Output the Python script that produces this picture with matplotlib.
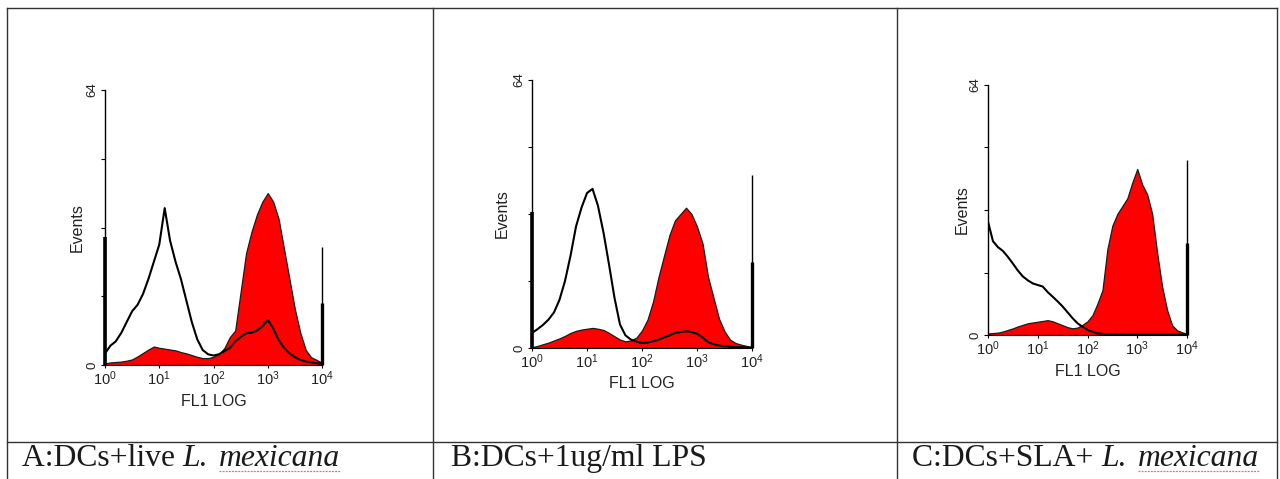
import matplotlib
matplotlib.use("Agg")
import matplotlib.pyplot as plt
from matplotlib.lines import Line2D

plt.rcParams['font.family'] = ['Liberation Sans', 'DejaVu Sans']
plt.rcParams['mathtext.fontset'] = 'custom'
plt.rcParams['mathtext.rm'] = 'Liberation Sans'
plt.rcParams['mathtext.it'] = 'Liberation Sans:italic'

# FL1 channel grid (0.1 decade steps from 10^0 to 10^4)
fl1 = [1.00, 1.26, 1.58, 2.00, 2.51, 3.16, 3.98, 5.01, 6.31, 7.94,
       10.0, 12.6, 15.8, 20.0, 25.1, 31.6, 39.8, 50.1, 63.1, 79.4,
       100, 126, 158, 200, 251, 316, 398, 501, 631, 794,
       1000, 1259, 1585, 1995, 2512, 3162, 3981, 5012, 6310, 7943, 10000]

# Panel A: DCs + live L. mexicana
a_black = [2.7, 4.5, 5.5, 7.5, 10, 12.5, 14, 16.5, 20, 24,
           28, 36.5, 29, 24, 20, 15, 10, 6, 3.5, 2.5,
           2.2, 2.5, 3.2, 4, 5.5, 6.5, 7.4, 7.5, 8, 9,
           10.5, 8.5, 5.8, 4, 2.7, 1.8, 1.2, 0.8, 0.6, 0.4, 0.3]
a_red = [0.4, 0.6, 0.7, 0.8, 1.0, 1.3, 2.0, 2.8, 3.6, 4.3,
         4.0, 3.8, 3.6, 3.4, 3.0, 2.7, 2.3, 1.9, 1.6, 1.6,
         1.9, 2.6, 3.9, 6.5, 8, 17, 26, 31, 35, 38,
         40, 38, 34, 27, 20, 13, 7.5, 3.5, 1.8, 1.2, 0.5]
a_first = 29.8
a_last = [27.5, 14.4]

# Panel B: DCs + 1ug/ml LPS
b_black = [3.6, 4.5, 5.5, 6.8, 8.5, 11.5, 16, 22, 29, 33.5,
           37, 38, 34, 27.5, 20, 12, 5.6, 3, 2, 1.5,
           1.2, 1.3, 1.6, 2, 2.5, 3, 3.6, 3.8, 4, 3.8,
           3.4, 2.5, 1.4, 0.9, 0.6, 0.4, 0.3, 0.2, 0.2, 0.1, 0.1]
b_red = [0.2, 0.5, 0.9, 1.3, 1.8, 2.3, 2.9, 3.6, 4.1, 4.4,
         4.6, 4.8, 4.6, 4.3, 3.6, 2.8, 2.0, 1.6, 1.8, 2.5,
         4.2, 6.8, 11, 17, 22, 27, 30.5, 32, 33.5, 32,
         29, 25, 17, 12, 7, 4, 2, 1.2, 0.8, 0.5, 0.2]
b_first = 32.5
b_last = [41.3, 20.5]

# Panel C: DCs + SLA + L. mexicana
c_black = [29, 24, 22.5, 21.5, 20, 18.3, 16.5, 15, 14, 13.2,
           12.8, 12.4, 11, 9.8, 8.6, 7.3, 5.8, 4.3, 3, 2.1,
           1.3, 0.8, 0.4, 0.3, 0.2, 0.2, 0.2, 0.1, 0.1, 0.1,
           0.1, 0.1, 0.1, 0.1, 0.1, 0.1, 0.1, 0.1, 0.1, 0.1, 0.1]
c_red = [0.4, 0.5, 0.6, 0.9, 1.3, 1.7, 2.2, 2.6, 3.0, 3.2,
         3.4, 3.6, 3.8, 3.5, 3.0, 2.5, 2.0, 1.7, 1.9, 2.6,
         3.5, 5.1, 8, 11.5, 22, 28, 31, 33, 35, 39,
         42.5, 38.5, 36, 31, 21, 12.4, 6.4, 2.5, 1.2, 0.7, 0.3]
c_first = 0.0
c_last = [44.8, 23.5]

xticks = [1, 10, 100, 1000, 10000]
xticklabels = [r'$10^{0}$', r'$10^{1}$', r'$10^{2}$', r'$10^{3}$', r'$10^{4}$']
yticks = [0, 16, 32, 48, 64]
yticklabels = ['0', '', '', '', '64']

cap_roman = ['A:DCs+live ', 'B:DCs+1ug/ml LPS', 'C:DCs+SLA+ ']
cap_italic = ['L.', '', 'L.']
cap_italic2 = ['mexicana', '', 'mexicana']

W, H = 1280, 479
fig = plt.figure(figsize=(12.8, 4.79), dpi=100)

# axes boxes in pixels: (left, right, bottom_y, top_y)
boxes = [(105, 322, 365, 90), (532, 752, 348, 80), (988, 1187, 335, 85)]
panels = [(a_black, a_red, a_first, a_last),
          (b_black, b_red, b_first, b_last),
          (c_black, c_red, c_first, c_last)]
ev_off = [-28, -30, -26]

for (l, r, b, t), (blk, red, first, last), evo in zip(boxes, panels, ev_off):
    ax = fig.add_axes([l / W, 1 - b / H, (r - l) / W, (b - t) / H])
    ax.set_xscale('log')
    ax.fill_between(fl1, red, 0, facecolor='#ff0000', edgecolor='#1a1a1a', lw=0.9, zorder=2)
    ax.plot(fl1, blk, color='black', lw=1.5, zorder=3)
    if first > 0:
        ax.vlines(1, 0, first, color='black', lw=2.6, zorder=4, clip_on=False)
    ax.vlines(10000, 0, last[0], color='black', lw=1.0, zorder=4, clip_on=False)
    ax.vlines(10000, 0, last[1], color='black', lw=2.4, zorder=4, clip_on=False)
    ax.set_xlim(1, 10000)
    ax.set_ylim(0, 64)
    for s in ['top', 'right']:
        ax.spines[s].set_visible(False)
    ax.spines['left'].set_linewidth(1.0)
    ax.spines['bottom'].set_linewidth(0.8)
    ax.set_xticks(xticks)
    ax.set_xticklabels(xticklabels, fontsize=10.5, color='#222222')
    ax.minorticks_off()
    ax.set_yticks(yticks)
    ax.set_yticklabels(yticklabels, rotation=90, va='center', fontsize=9.5, color='#222222')
    ax.tick_params(axis='x', direction='out', length=2, pad=1)
    ax.tick_params(axis='y', direction='out', length=3, pad=2)
    ax.set_facecolor('none')
    ax.annotate('Events', xy=(0, 0.5), xycoords='axes fraction', xytext=(evo, 0),
                textcoords='offset pixels', rotation=90, ha='center', va='center',
                fontsize=11.5, color='#222222')
    ax.annotate('FL1 LOG', xy=(0.5, 0), xycoords='axes fraction', xytext=(0, -36),
                textcoords='offset pixels', ha='center', va='center',
                fontsize=11.5, color='#222222')

# table grid
lc = '#333333'
def hline(y, x0=7, x1=1277):
    fig.add_artist(Line2D([x0 / W, x1 / W], [1 - y / H, 1 - y / H], color=lc, lw=1.0))
def vline(x, y0=8, y1=479):
    fig.add_artist(Line2D([x / W, x / W], [1 - y0 / H, 1 - y1 / H], color=lc, lw=1.0))
hline(8)
hline(442)
for x in [7, 433, 897, 1277]:
    vline(x)

# captions
renderer = fig.canvas.get_renderer()
cap_x = [22, 451, 912]
base_y = 1 - 466 / H
fs = 22.8
for cx, rom, it1, it2 in zip(cap_x, cap_roman, cap_italic, cap_italic2):
    t1 = fig.text(cx / W, base_y, rom, fontsize=fs, family='Liberation Serif',
                  color='#1a1a1a', va='baseline')
    if it1:
        bb = t1.get_window_extent(renderer)
        t2 = fig.text(bb.x1 / W, base_y, it1 + ' ', fontsize=fs, family='Liberation Serif',
                      style='italic', color='#1a1a1a', va='baseline')
        bb2 = t2.get_window_extent(renderer)
        t3 = fig.text(bb2.x1 / W + 3 / W, base_y, it2, fontsize=fs, family='Liberation Serif',
                      style='italic', color='#1a1a1a', va='baseline')
        bb3 = t3.get_window_extent(renderer)
        yline = 1 - 471 / H
        fig.add_artist(Line2D([bb3.x0 / W, bb3.x1 / W], [yline, yline], color='#e07070',
                              lw=0.9, ls=(0, (1.5, 1))))

fig.savefig('out.png', dpi=100)
